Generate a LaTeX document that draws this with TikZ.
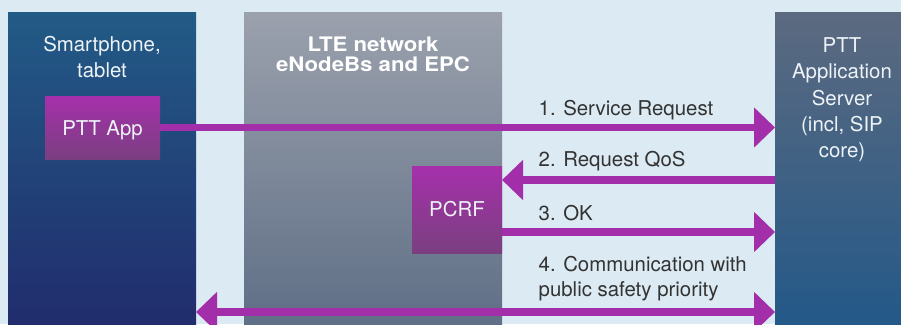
\documentclass[tikz,border=0pt]{standalone}
\usepackage{fontspec}
\setmainfont{TeX Gyre Heros}
\newfontfamily\widebold[FakeStretch=1.11]{TeX Gyre Heros}
\usetikzlibrary{arrows.meta}
\definecolor{bgc}{HTML}{DCEAF3}
\definecolor{phtop}{HTML}{225B86}
\definecolor{phbot}{HTML}{212B6C}
\definecolor{ntop}{HTML}{9BA1AD}
\definecolor{nbot}{HTML}{5E6E85}
\definecolor{stop}{HTML}{5C6A80}
\definecolor{sbot}{HTML}{225888}
\definecolor{ptop}{HTML}{A630AB}
\definecolor{pbot}{HTML}{7A3F80}
\definecolor{arr}{HTML}{A22EA9}
\definecolor{lbl}{HTML}{333333}
\definecolor{wt}{HTML}{EEF3F7}
\tikzset{
  colbox/.style={inner sep=0pt, outer sep=0pt, draw=none, anchor=north west},
  purplebox/.style={inner sep=0pt, outer sep=0pt, draw=none, anchor=north west, top color=ptop, bottom color=pbot},
  wtext/.style={text=wt, inner sep=0pt, anchor=base, font=\fontsize{20.4}{26}\selectfont},
  btext/.style={text=white, inner sep=0pt, anchor=base, font=\fontsize{20}{22}\widebold\bfseries},
  ltext/.style={text=lbl, inner sep=0pt, anchor=base west, font=\fontsize{20.4}{26}\selectfont},
  msg/.style={draw=arr, line width=7.5pt, -{Triangle[width=39pt,length=21pt]}},
  msgboth/.style={draw=arr, line width=7.5pt, {Triangle[width=39pt,length=21pt]}-{Triangle[width=39pt,length=21pt]}}
}
\begin{document}
\begin{tikzpicture}[x=1pt,y=-1pt]
\useasboundingbox (0,0) rectangle (901,324);
\clip (0,0) rectangle (901,324);
\fill[bgc] (0,0) rectangle (901,324);
% columns
\node[colbox, minimum width=188pt, minimum height=320pt, top color=phtop, bottom color=phbot] (phone) at (8,12) {};
\node[colbox, minimum width=258pt, minimum height=320pt, top color=ntop, bottom color=nbot] (lte) at (244,12) {};
\node[colbox, minimum width=130pt, minimum height=320pt, top color=stop, bottom color=sbot] (server) at (775,12) {};
% boxes
\node[purplebox, minimum width=115pt, minimum height=63pt] (app) at (45,96) {};
\node[purplebox, minimum width=90pt, minimum height=87pt] (pcrf) at (412,166) {};
% column texts
\node[wtext] (t1) at (102,51) {Smartphone,};
\node[wtext] (t2) at (102,77.5) {tablet};
\node[wtext] (tapp) at (app.center |- 0,135) {PTT App};
\node[btext] (l1) at (373,51) {LTE network};
\node[btext] (l2) at (373,71) {eNodeBs and EPC};
\node[wtext] (tpcrf) at (pcrf.center |- 0,216.5) {PCRF};
\node[wtext] (s1) at (842,52.5) {PTT};
\node[wtext] (s2) at (842,78.8) {Application};
\node[wtext] (s3) at (842,105.1) {Server};
\node[wtext] (s4) at (842,131.4) {(incl, SIP};
\node[wtext] (s5) at (842,157.7) {core)};
% message labels
\node[ltext] (m1) at (538.5,115) {1. Service Request};
\node[ltext] (m2) at (538.5,166.7) {2. Request QoS};
\node[ltext] (m3) at (538.5,220) {3. OK};
\node[ltext] (m4a) at (538.5,271.7) {4. Communication with};
\node[ltext] (m4b) at (538.5,296.7) {public safety priority};
% arrows
\coordinate (c2) at (0,180);
\coordinate (c3) at (0,232);
\coordinate (c4) at (0,312);
\draw[msg] (app.east) -- (app.east -| server.west);
\draw[msg] (server.west |- c2) -- (pcrf.east |- c2);
\draw[msg] (pcrf.east |- c3) -- (server.west |- c3);
\draw[msgboth] (phone.east |- c4) -- (server.west |- c4);
\end{tikzpicture}
\end{document}
